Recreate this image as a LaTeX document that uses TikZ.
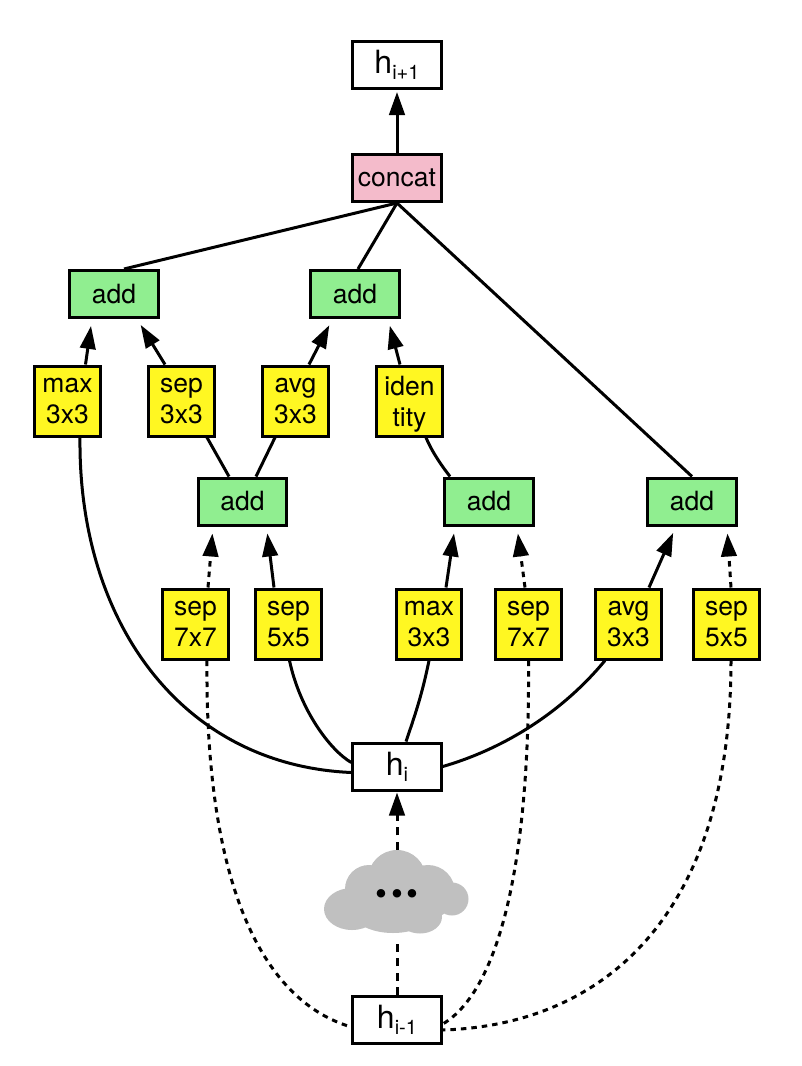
\documentclass[tikz,border=0pt]{standalone}
\usepackage{fontspec}
\setmainfont{TeX Gyre Heros}
\usetikzlibrary{arrows.meta}

\definecolor{concatpink}{HTML}{F4BBCB}
\definecolor{addgreen}{HTML}{90EE90}
\definecolor{opyellow}{HTML}{FFF722}
\definecolor{cloudgray}{HTML}{C0C0C0}

\newcommand{\hsub}[1]{h\raisebox{-6pt}{\fontsize{20}{20}\selectfont #1}}

\tikzset{
    box/.style={draw=black, line width=3pt, inner sep=0pt, align=center, font=\fontsize{26.5}{31}\selectfont},
    statebox/.style={box, fill=white, minimum width=88.5pt, minimum height=47pt, font=\fontsize{32}{32}\selectfont},
    addbox/.style={box, fill=addgreen, minimum width=88.5pt, minimum height=47pt},
    concatbox/.style={box, fill=concatpink, minimum width=88.5pt, minimum height=47pt},
    opbox/.style={box, fill=opyellow, minimum width=65.5pt, minimum height=70pt, text depth=0pt},
    edge/.style={line width=3pt},
    tip/.style={edge, -{Triangle[length=23pt, width=15.5pt]}, shorten >=7pt},
    dotted edge/.style={edge, dash pattern=on 5.5pt off 5pt},
    dotted tip/.style={tip, dash pattern=on 5.5pt off 5pt},
    long dash/.style={edge, dash pattern=on 8pt off 6.5pt}
}

\begin{document}
\begin{tikzpicture}[x=1pt, y=-1pt]
    \useasboundingbox (0, 0) rectangle (802, 1066);

    % Draw the cell outputs and inputs
    \node[statebox] (hnext) at (397, 65) {\hsub{i+1}};
    \node[concatbox] (concat) at (397, 178) {concat};
    \node[statebox] (hcur) at (397, 766.5) {\hsub{i}};
    \node[statebox] (hprev) at (397, 1020) {\hsub{i-1}};

    % Draw the add blocks
    \foreach \name/\x/\y in {adda/114/294, addb/355/294, addc/242.5/501.5, addd/489/501.5, adde/692/501.5}
        \node[addbox] (\name) at (\x, \y) {add};

    % Draw the operation blocks
    \foreach \name/\x/\opa/\opb in {maxa/67.5/max/3x3, sepa/181.5/sep/3x3, avga/295.5/avg/3x3, iden/409.5/iden/tity}
        \node[opbox] (\name) at (\x, 401) {\opa\\\opb};
    \foreach \name/\x/\opa/\opb in {sepb/195.5/sep/7x7, sepc/288.5/sep/5x5, maxb/429/max/3x3, sepd/528.5/sep/7x7, avgb/628.5/avg/3x3, sepe/726.5/sep/5x5}
        \node[opbox] (\name) at (\x, 624) {\opa\\\opb};

    % Draw the cloud between the two inputs
    \fill[cloudgray] (352, 909) ellipse (28 and 21);
    \fill[cloudgray] (397, 879) circle (29);
    \fill[cloudgray] (369, 889) circle (24);
    \fill[cloudgray] (428, 892) circle (27);
    \fill[cloudgray] (452, 899) circle (16.5);
    \fill[cloudgray] (393, 910) ellipse (42 and 23);
    \fill[cloudgray] (420, 917) ellipse (22 and 16.5);
    \node[minimum width=146pt, minimum height=83pt, inner sep=0pt, font=\fontsize{34}{34}\selectfont] (cloud) at (397, 891.5) {\raisebox{-13.5pt}[0pt][0pt]{•\hspace{4pt}•\hspace{4pt}•}};

    % Connect the upper half of the cell
    \draw[tip, shorten >=2pt] (concat) -- (hnext);
    \draw[edge] ([xshift=10pt]adda.north) -- (concat.south);
    \draw[edge] ([xshift=3pt]addb.north) -- (concat.south);
    \draw[edge] (adde.north) -- (concat.south);

    \draw[tip] ([xshift=18pt]maxa.north) -- ([xshift=-22pt]adda.south);
    \draw[tip] ([xshift=-16.5pt]sepa.north) -- ([xshift=23pt]adda.south);
    \draw[tip] ([xshift=13.5pt]avga.north) -- ([xshift=-22.5pt]addb.south);
    \draw[tip] ([xshift=-9.5pt]iden.north) -- ([xshift=33pt]addb.south);

    \draw[edge] ([xshift=-13.5pt]addc.north) -- ([xshift=25.5pt]sepa.south);
    \draw[edge] ([xshift=13.5pt]addc.north) -- ([xshift=-20.5pt]avga.south);
    \draw[edge] ([xshift=-39pt]addd.north) .. controls (441, 465) and (431, 450) .. ([xshift=16.5pt]iden.south);

    % Connect the lower operations to their add blocks
    \draw[dotted tip] ([xshift=12.5pt]sepb.north) -- ([xshift=-29.5pt]addc.south);
    \draw[tip] ([xshift=-14.5pt]sepc.north) -- ([xshift=24pt]addc.south);
    \draw[tip] ([xshift=17pt]maxb.north) -- ([xshift=-34pt]addd.south);
    \draw[dotted tip] ([xshift=-3.5pt]sepd.north) -- ([xshift=28pt]addd.south);
    \draw[tip] ([xshift=20.5pt]avgb.north) -- ([xshift=-16pt]adde.south);
    \draw[dotted tip] ([xshift=4.5pt]sepe.north) -- ([xshift=35pt]adde.south);

    % Draw the curves leaving the current input
    \draw[edge] ([xshift=12.5pt]maxa.south) .. controls (78, 620) and (180, 765) .. ([yshift=-6pt]hcur.west);
    \draw[edge] ([xshift=1pt]sepc.south) .. controls (300, 710) and (330, 750) .. ([yshift=4pt]hcur.west);
    \draw[edge] (maxb.south) .. controls (422, 695) and (415, 715) .. ([xshift=9pt]hcur.north);
    \draw[edge] ([xshift=-23.5pt]avgb.south) .. controls (560, 715) and (500, 750) .. (hcur.east);

    % Draw the curves leaving the previous input
    \draw[dotted edge] ([xshift=11.5pt]sepb.south) .. controls (205, 880) and (260, 1000) .. ([yshift=-7pt]hprev.west);
    \draw[dotted edge] (sepd.south) .. controls (530, 860) and (500, 990) .. ([yshift=-4pt]hprev.east);
    \draw[dotted edge] ([xshift=4.5pt]sepe.south) .. controls (731, 920) and (600, 1025) .. ([yshift=-10pt]hprev.east);

    % Draw the path through the cloud
    \draw[long dash] (hprev.north) -- ([yshift=-4pt]cloud.south);
    \draw[long dash, -{Triangle[length=23pt, width=15.5pt]}, shorten >=1pt] (cloud.north) -- (hcur.south);
\end{tikzpicture}
\end{document}
